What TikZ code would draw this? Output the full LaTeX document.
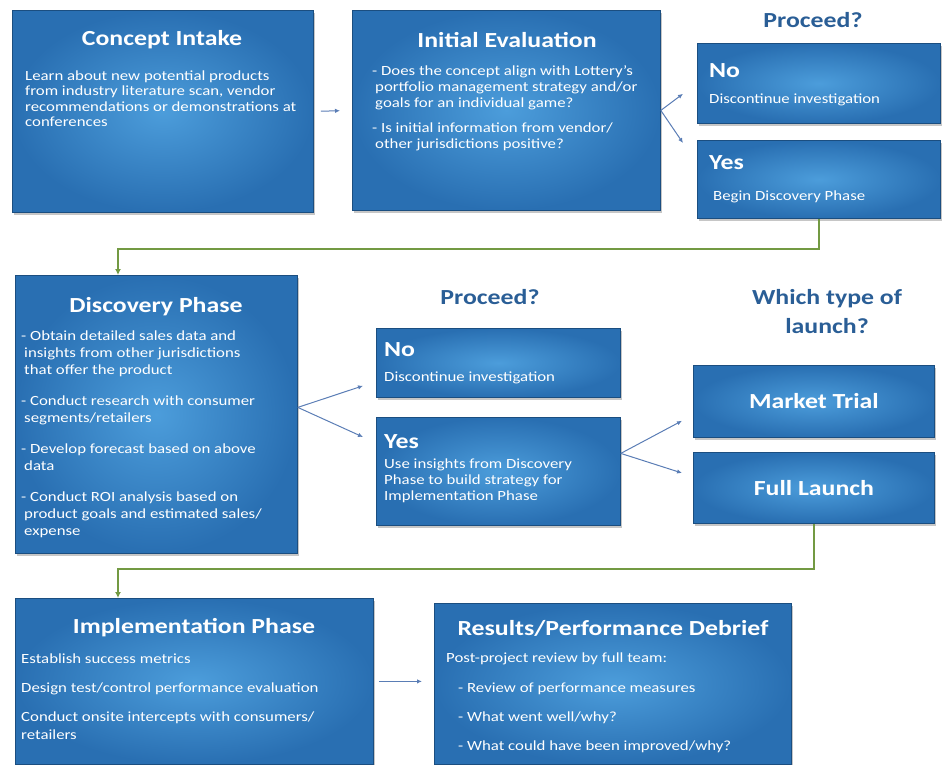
\documentclass[tikz,border=0pt]{standalone}
\usepackage{fontspec}
\setmainfont{Carlito}[FakeStretch=1.2]
\usetikzlibrary{shadows,arrows.meta}

\definecolor{boxlight}{HTML}{4C9DDB}
\definecolor{boxdark}{HTML}{296FB2}
\definecolor{boxedge}{HTML}{1B4E80}
\definecolor{asktext}{HTML}{2A5E96}
\definecolor{flowblue}{HTML}{5A7DB5}
\definecolor{flowgreen}{HTML}{739A43}

\tikzset{
  phase/.style={draw=boxedge, line width=0.8pt, shading=radial,
    inner color=boxlight, outer color=boxdark, anchor=north west,
    drop shadow={opacity=0.45, shadow xshift=2pt, shadow yshift=-3pt}},
  head/.style={text=white, font=\fontsize{21.5}{25}\selectfont\bfseries},
  body/.style={text=white, align=left, anchor=north west, inner sep=0pt,
    font=\fontsize{14}{15.5}\selectfont},
  ask/.style={text=asktext, align=center, font=\fontsize{21.5}{29}\selectfont\bfseries},
  flow/.style={draw=flowblue, line width=1pt, -{Latex[length=5pt,width=4.5pt]}},
  next/.style={draw=flowgreen, line width=1.6pt, -{Latex[length=6pt,width=6pt]}}
}

\begin{document}
\begin{tikzpicture}[x=1pt,y=-1pt]
  \useasboundingbox (0,0) rectangle (947,765);

  % top row
  \node at (12,10)[phase, minimum width=301pt, minimum height=202pt] (intake){};
  \node at (162,40)[head] (intakehead){Concept Intake};
  \node at (25,70.5)[body] (intakebody){Learn about new potential products\\
    from industry literature scan, vendor\\
    recommendations or demonstrations at\\
    conferences};

  \node at (352,10)[phase, minimum width=308pt, minimum height=200pt] (eval){};
  \node at (507,40)[head] (evalhead){Initial Evaluation};
  \node at (372,65)[body, font=\fontsize{14}{16.2}\selectfont] (evalbody){- Does the concept align with Lottery's\\
    \hspace{3pt}portfolio management strategy and/or\\
    \hspace{3pt}goals for an individual game?\\[9pt]
    - Is initial information from vendor/\\
    \hspace{3pt}other jurisdictions positive?};

  \node at (813,20)[ask] (ask1){Proceed?};
  \node at (697,43)[phase, minimum width=243pt, minimum height=80pt] (no1){};
  \node at (709,71)[head, anchor=west, inner sep=0pt] (no1head){No};
  \node at (709,100)[body, anchor=west] (no1body){Discontinue investigation};
  \node at (697,140)[phase, minimum width=243pt, minimum height=78pt] (yes1){};
  \node at (709,163)[head, anchor=west, inner sep=0pt] (yes1head){Yes};
  \node at (713,197)[body, anchor=west] (yes1body){Begin Discovery Phase};

  % middle row
  \node at (15,275)[phase, minimum width=282pt, minimum height=278pt] (disc){};
  \node at (156,307)[head] (dischead){Discovery Phase};
  \node at (21,331)[body, font=\fontsize{14}{17}\selectfont] (discbody){- Obtain detailed sales data and\\
    \hspace{3pt}insights from other jurisdictions\\
    \hspace{3pt}that offer the product\\[14pt]
    - Conduct research with consumer\\
    \hspace{3pt}segments/retailers\\[14pt]
    - Develop forecast based on above\\
    \hspace{3pt}data\\[14pt]
    - Conduct ROI analysis based on\\
    \hspace{3pt}product goals and estimated sales/\\
    \hspace{3pt}expense};

  \node at (490,297)[ask] (ask2){Proceed?};
  \node at (376,328)[phase, minimum width=244pt, minimum height=69pt] (no2){};
  \node at (384,350)[head, anchor=west, inner sep=0pt] (no2head){No};
  \node at (384,378)[body, anchor=west] (no2body){Discontinue investigation};
  \node at (376,417)[phase, minimum width=244pt, minimum height=108pt] (yes2){};
  \node at (384,442)[head, anchor=west, inner sep=0pt] (yes2head){Yes};
  \node at (384,459)[body, font=\fontsize{14}{16}\selectfont] (yes2body){Use insights from Discovery\\
    Phase to build strategy for\\
    Implementation Phase};

  \node at (827,312)[ask] (ask3){Which type of\\launch?};
  \node at (693,365)[phase, minimum width=241pt, minimum height=72pt] (trial){};
  \node at (trial.center)[head] (trialhead){Market Trial};
  \node at (693,452)[phase, minimum width=241pt, minimum height=71pt] (full){};
  \node at (full.center)[head] (fullhead){Full Launch};

  % bottom row
  \node at (15,598)[phase, minimum width=358pt, minimum height=166pt] (impl){};
  \node at (194,628)[head] (implhead){Implementation Phase};
  \node at (21,654)[body, font=\fontsize{14}{18}\selectfont] (implbody){Establish success metrics\\[11pt]
    Design test/control performance evaluation\\[11pt]
    Conduct onsite intercepts with consumers/\\
    retailers};

  \node at (434,603)[phase, minimum width=357pt, minimum height=161pt] (results){};
  \node at (613,628)[head] (resultshead){Results/Performance Debrief};
  \node at (446,653)[body, font=\fontsize{14}{29.3}\selectfont] (resultsbody){Post-project review by full team:\\
    \hspace{12pt}- Review of performance measures\\
    \hspace{12pt}- What went well/why?\\
    \hspace{12pt}- What could have been improved/why?};

  % connectors
  \draw[flow, shorten <=7pt, shorten >=12pt] (intake.east) -- (eval.west);
  \draw[flow] (eval.east) -- ([xshift=-14pt,yshift=30pt]no1.south west);
  \draw[flow] (eval.east) -- ([xshift=-14pt,yshift=-3pt]yes1.north west);
  \draw[next] (yes1.south) -- ++(0,30) -| ([xshift=103pt]disc.north west);

  \draw[flow] ([yshift=7pt]disc.east) -- ([xshift=-13pt,yshift=12pt]no2.south west);
  \draw[flow] ([yshift=7pt]disc.east) -- ([xshift=-13pt,yshift=-20pt]yes2.north west);
  \draw[flow] ([yshift=18pt]yes2.east) -- ([xshift=-11pt,yshift=17pt]trial.south west);
  \draw[flow] ([yshift=18pt]yes2.east) -- ([xshift=-11pt,yshift=-21pt]full.north west);
  \draw[next] (full.south) -- ++(0,45) -| ([xshift=103pt]impl.north west);

  \draw[flow, shorten <=5pt, shorten >=12pt] (impl.east) -- (impl.east -| results.west);
\end{tikzpicture}
\end{document}
